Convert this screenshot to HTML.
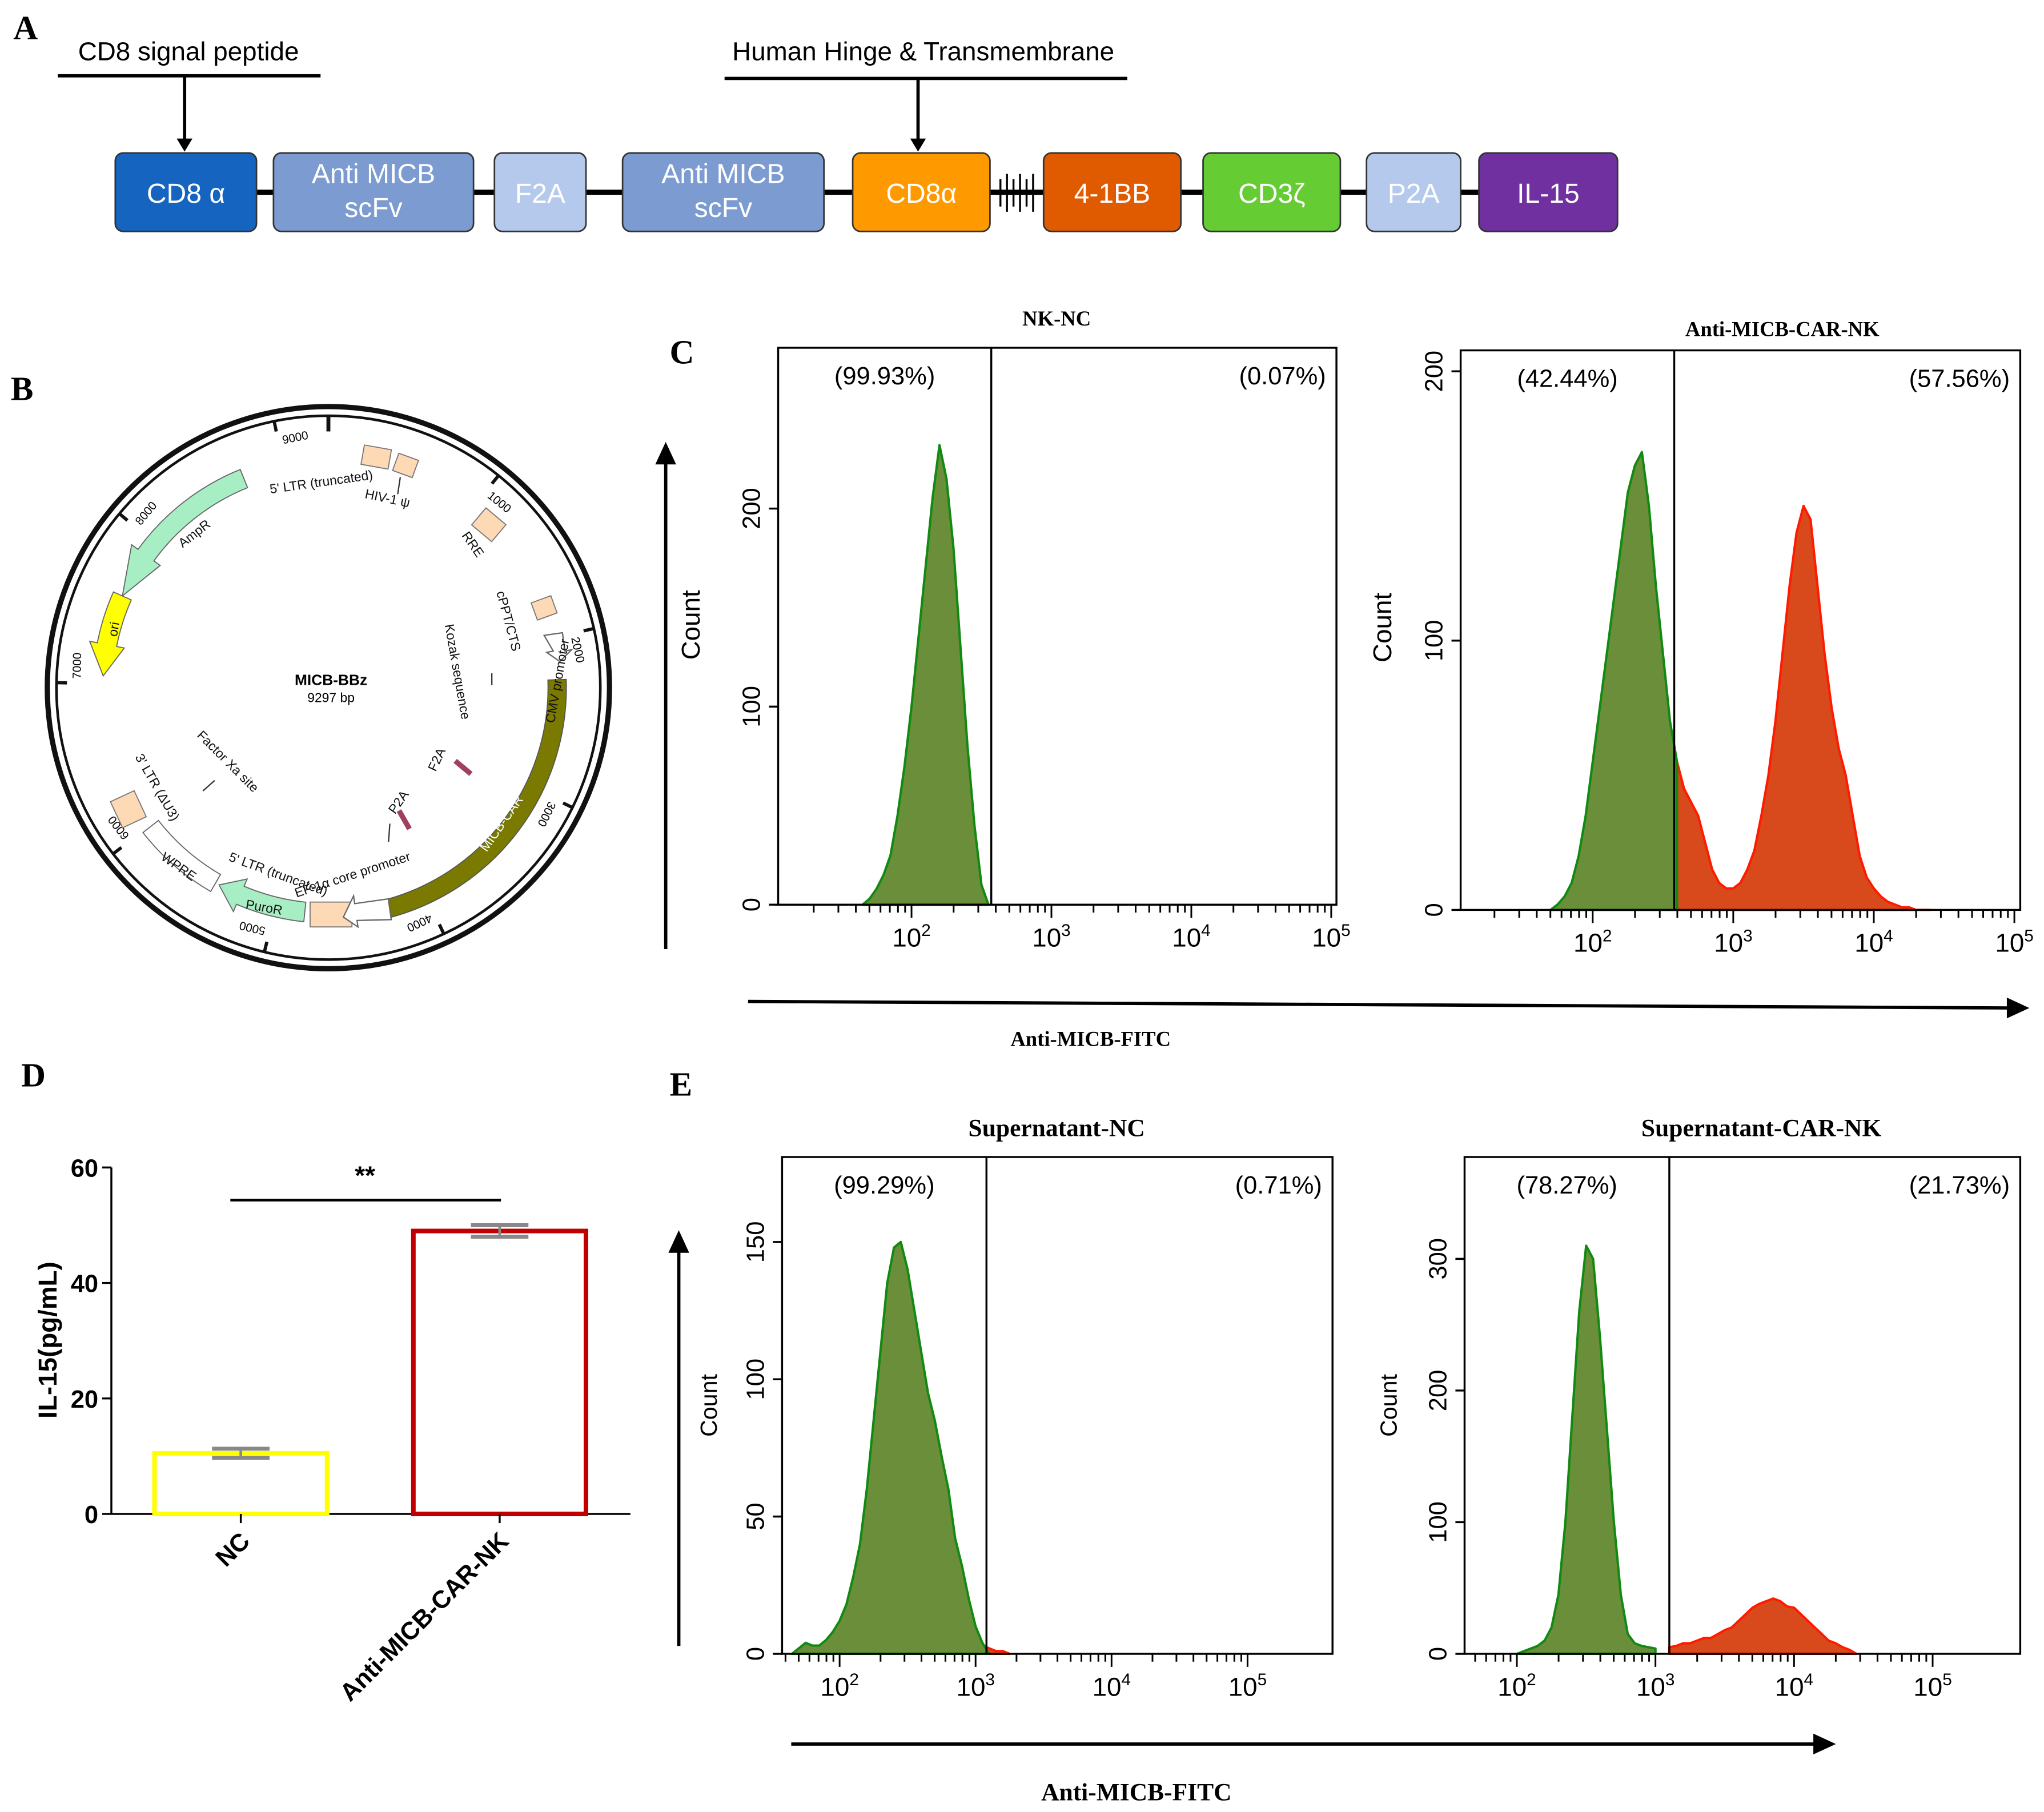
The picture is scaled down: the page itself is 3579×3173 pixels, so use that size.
<!DOCTYPE html>
<html><head><meta charset="utf-8"><style>
html,body{margin:0;padding:0;background:#fff}
svg{display:block}
text{font-family:"Liberation Sans",sans-serif}
.serif{font-family:"Liberation Serif",serif;font-weight:bold}
</style></head><body>
<svg id="fig" width="3579" height="3173" viewBox="0 0 1563 1386" xmlns="http://www.w3.org/2000/svg">
<rect width="1563" height="1386" fill="#fff"/>
<text class="serif" x="10" y="30" font-size="26">A</text>
<text class="serif" x="8" y="306" font-size="26">B</text>
<text class="serif" x="512" y="278" font-size="26">C</text>
<text class="serif" x="16" y="831" font-size="26">D</text>
<text class="serif" x="512" y="838" font-size="26">E</text>

<g id="panelA">
<line x1="90" y1="147" x2="1235" y2="147" stroke="#000" stroke-width="4"/>
<text x="144" y="46" font-size="20" text-anchor="middle">CD8 signal peptide</text>
<line x1="44" y1="58" x2="245" y2="58" stroke="#000" stroke-width="2.5"/>
<line x1="141" y1="58" x2="141" y2="108" stroke="#000" stroke-width="2.5"/>
<polygon points="135,106 147,106 141,116" fill="#000"/>
<text x="706" y="46" font-size="20" text-anchor="middle">Human Hinge &amp; Transmembrane</text>
<line x1="554" y1="60" x2="862" y2="60" stroke="#000" stroke-width="2.5"/>
<line x1="702" y1="60" x2="702" y2="108" stroke="#000" stroke-width="2.5"/>
<polygon points="696,106 708,106 702,116" fill="#000"/>
<g stroke="#000" stroke-width="1.5">
<line x1="765" y1="137" x2="765" y2="158"/><line x1="770" y1="133" x2="770" y2="162"/><line x1="775" y1="137" x2="775" y2="158"/><line x1="780" y1="133" x2="780" y2="162"/><line x1="785" y1="137" x2="785" y2="158"/><line x1="790" y1="133" x2="790" y2="162"/></g>
</g>
<g id="boxes"></g>

<g id="panelB">
<circle cx="251" cy="526" r="215" fill="none" stroke="#111" stroke-width="4"/>
<circle cx="251" cy="526" r="208" fill="none" stroke="#111" stroke-width="2"/>
<g id="ptick"></g>
<path id="micbcar" fill="#7a7a00" stroke="#555" stroke-width="0.8"/>
<path id="ampr" fill="#a8eec4" stroke="#666" stroke-width="0.8"/>
<path id="ori" fill="#ffff00" stroke="#666" stroke-width="0.8"/>
<path id="puro" fill="#a8eec4" stroke="#666" stroke-width="0.8"/>
<path id="wpre" fill="#fff" stroke="#666" stroke-width="0.8"/>
<g fill="#fdd9b5" stroke="#777" stroke-width="0.8">
<rect x="277" y="342" width="21" height="15" transform="rotate(10 287 350)"/>
<rect x="302" y="349" width="16" height="14" transform="rotate(20 310 356)"/>
<rect x="364" y="393" width="20" height="17" transform="rotate(40 374 401)"/>
<rect x="408" y="458" width="16" height="14" transform="rotate(-20 416 465)"/>
<rect x="237" y="690" width="32" height="19"/>
<rect x="88" y="608" width="20" height="22" transform="rotate(-25 98 619)"/>
</g>
<path d="M416,486 L430,484 L432,498 L437,497 L428,506 L418,499 L423,498 Z" fill="#fff" stroke="#666"/>
<path d="M298,690 L272,690 L272,684 L262,699 L272,708 L272,703 L298,706 Z" fill="#fff" stroke="#666" transform="rotate(-8 280 697)"/>
<text x="253" y="524" font-size="11.5" font-weight="bold" text-anchor="middle">MICB-BBz</text>
<text x="253" y="537" font-size="10" text-anchor="middle">9297 bp</text>
<g font-size="10" fill="#111">
<text x="246" y="372" transform="rotate(-8 246 372)" text-anchor="middle">5' LTR (truncated)</text>
<text x="278" y="385" transform="rotate(12 298 385)">HIV-1 ψ</text>
<text x="353" y="415" transform="rotate(55 358 412)">RRE</text>
<text x="378" y="455" transform="rotate(75 380 455)">cPPT/CTS</text>
<text x="340" y="478" transform="rotate(80 340 478)">Kozak sequence</text>
<text x="400" y="565" transform="rotate(-80 405 545)">CMV promoter</text>
<text x="372" y="652" transform="rotate(-55 372 652)" fill="#fff">MICB-CAR</text>
<text x="325" y="592" transform="rotate(-65 328 585)">F2A</text>
<text x="292" y="620" transform="rotate(-55 300 612)">P2A</text>
<text x="222" y="672" transform="rotate(-18 270 665)">EF-1α core promoter</text>
<text x="170" y="668" transform="rotate(20 200 675)">5' LTR (truncated)</text>
<text x="188" y="697" transform="rotate(10 200 692)">PuroR</text>
<text x="122" y="662" transform="rotate(35 130 660)">WPRE</text>
<text x="92" y="582" transform="rotate(60 100 590)">3' LTR (ΔU3)</text>
<text x="150" y="563" transform="rotate(45 150 563)">Factor Xa site</text>
<text x="135" y="414" transform="rotate(-38 145 410)">AmpR</text>
<text x="78" y="490" transform="rotate(-80 82 482)">ori</text>
</g>
<g stroke="#333" stroke-width="1"><line x1="376" y1="515" x2="376" y2="524"/><line x1="155" y1="605" x2="164" y2="597"/><line x1="297" y1="644" x2="298" y2="630"/><line x1="306" y1="365" x2="304" y2="378"/></g>
<path d="M348,582 L360,592" stroke="#a04060" stroke-width="4"/>
<path d="M305,620 L313,634" stroke="#a04060" stroke-width="4"/>
</g>

<g id="panelD"></g>
<g id="flow"></g>

<text class="serif" x="808" y="249" font-size="16" text-anchor="middle">NK-NC</text>
<text class="serif" x="1363" y="257" font-size="16" text-anchor="middle">Anti-MICB-CAR-NK</text>
<text class="serif" x="834" y="800" font-size="16" text-anchor="middle">Anti-MICB-FITC</text>
<text class="serif" x="808" y="869" font-size="19" text-anchor="middle">Supernatant-NC</text>
<text class="serif" x="1347" y="869" font-size="19" text-anchor="middle">Supernatant-CAR-NK</text>
<text class="serif" x="869" y="1377" font-size="19" text-anchor="middle">Anti-MICB-FITC</text>
<g stroke="#000" stroke-width="2.5" fill="#000">
<line x1="509" y1="726" x2="509" y2="352"/><polygon points="503,354 515,354 509,341"/>
<line x1="572" y1="766" x2="1538" y2="771"/><polygon points="1536,765 1536,777 1549,771"/>
<line x1="519" y1="1259" x2="519" y2="955"/><polygon points="513,957 525,957 519,944"/>
<line x1="605" y1="1334" x2="1390" y2="1334"/><polygon points="1388,1328 1388,1340 1401,1334"/>
</g>
</svg>
<script>
const NS="http://www.w3.org/2000/svg";
function mk(tag,attrs,parent){const e=document.createElementNS(NS,tag);for(const k in attrs)e.setAttribute(k,attrs[k]);parent.appendChild(e);return e;}

const boxLabels=["CD8 α","Anti MICB|scFv","F2A","Anti MICB|scFv","CD8α","4-1BB","CD3ζ","P2A","IL-15"];
const boxX=[[88,196],[209,362],[378,448],[476,630],[652,757],[798,903],[920,1025],[1045,1117],[1131,1237]];
const boxFill=["#1565c0","#7b9bd1","#b4c9ec","#7b9bd1","#ff9900","#e05a00","#66cc33","#b4c9ec","#7030a0"];
const bg=document.getElementById('boxes');
boxLabels.forEach((l,i)=>{
  const r=mk('rect',{x:boxX[i][0],y:117,width:boxX[i][1]-boxX[i][0],height:60,rx:6,fill:boxFill[i],stroke:"#333","stroke-width":1.2},bg);
  
  
  const parts=l.split('|');const cx=(boxX[i][0]+boxX[i][1])/2;
  parts.forEach((p,j)=>{const t=mk('text',{x:cx,y:parts.length==1?155:140+j*26,"font-size":21,fill:"#fff","text-anchor":"middle"},bg);t.textContent=p;
  
  });
});

const C=[251,526];
function pt(a,r){const t=(a-90)*Math.PI/180;return [C[0]+r*Math.cos(t),C[1]+r*Math.sin(t)];}
function arc(a1,a2,r1,r2){const p1=pt(a1,r2),p2=pt(a2,r2),p3=pt(a2,r1),p4=pt(a1,r1);const lg=(a2-a1)>180?1:0;
return `M${p1} A${r2},${r2} 0 ${lg} 1 ${p2} L${p3} A${r1},${r1} 0 ${lg} 0 ${p4} Z`;}
function arrowArc(a1,a2,r1,r2,head){
 const rm=(r1+r2)/2,p1=pt(a1+head,r2),p2=pt(a2,r2),p3=pt(a2,r1),p4=pt(a1+head,r1),tip=pt(a1,rm),e1=pt(a1+head,r2+6),e2=pt(a1+head,r1-6);
 return `M${p1} A${r2},${r2} 0 0 1 ${p2} L${p3} A${r1},${r1} 0 0 0 ${p4} L${e2} L${tip} L${e1} Z`;}
function arrowArcCW(a1,a2,r1,r2,head){
 const rm=(r1+r2)/2,p1=pt(a1,r2),p2=pt(a2-head,r2),p3=pt(a2-head,r1),p4=pt(a1,r1),tip=pt(a2,rm),e1=pt(a2-head,r2+6),e2=pt(a2-head,r1-6);
 return `M${p1} A${r2},${r2} 0 0 1 ${p2} L${e1} L${tip} L${e2} L${p3} A${r1},${r1} 0 0 0 ${p4} Z`;}
document.getElementById('micbcar').setAttribute('d',arc(88,166,168,182));
document.getElementById('ampr').setAttribute('d',arrowArc(-66,-22,165,180,12));
document.getElementById('ori').setAttribute('d',arrowArc(-87,-66,165,180,8));
document.getElementById('puro').setAttribute('d',arrowArcCW(186,209,165,180,6));
document.getElementById('wpre').setAttribute('d',arc(210,232,165,180));
const ptick=document.getElementById('ptick');
const tickBp=[0,1000,2000,3000,4000,5000,6000,7000,8000,9000];
tickBp.forEach(b=>{const a=b/9297*360;const p1=pt(a,208),p2=pt(a,b==0?196:200);
 const l=mk('line',{x1:p1[0],y1:p1[1],x2:p2[0],y2:p2[1],stroke:"#111","stroke-width":b==0?3:2.5},ptick);
 
 if(b){const q=pt(a+4,190);const t=mk('text',{x:q[0],y:q[1],"font-size":9,"text-anchor":"middle",transform:`rotate(${a} ${q[0]} ${q[1]})`},ptick);t.textContent=b;
 }
});

const dCats=["NC","Anti-MICB-CAR-NK"];
const dVals=[10.5,49];
const dErr=[0.8,1.0];
const dTicks=[0,20,40,60];
const dColors=["#ffff00","#c00000"];
(function(){
 const g=document.getElementById('panelD');
 const y0=1158,ppu=(1158-893)/60,y=v=>y0-v*ppu;
 const xL=[118,316],bw=132;
 mk('line',{x1:85,y1:y0,x2:482,y2:y0,stroke:"#000","stroke-width":1.5},g);
 mk('line',{x1:85,y1:y(60),x2:85,y2:y0,stroke:"#000","stroke-width":1.5},g);
 dTicks.forEach(t=>{mk('line',{x1:78,y1:y(t),x2:85,y2:y(t),stroke:"#000","stroke-width":1.5},g);
  const tx=mk('text',{x:75,y:y(t)+7,"font-size":19,"font-weight":"bold","text-anchor":"end"},g);tx.textContent=t;
  });
 const yl=mk('text',{x:43,y:1025,"font-size":20,"font-weight":"bold","text-anchor":"middle",transform:"rotate(-90 43 1025)"},g);yl.textContent="IL-15(pg/mL)";
 
 dVals.forEach((v,i)=>{
  const b=mk('rect',{x:xL[i],y:y(v),width:bw,height:y0-y(v),fill:"#fff",stroke:dColors[i],"stroke-width":3.5},g);
  
  const cx=xL[i]+bw/2;
  mk('line',{x1:cx,y1:y(v+dErr[i]),x2:cx,y2:y(v-dErr[i]),stroke:"#888","stroke-width":2},g);
  mk('line',{x1:cx-22,y1:y(v+dErr[i]),x2:cx+22,y2:y(v+dErr[i]),stroke:"#888","stroke-width":3},g);
  mk('line',{x1:cx-22,y1:y(v-dErr[i]),x2:cx+22,y2:y(v-dErr[i]),stroke:"#888","stroke-width":3},g);
  mk('line',{x1:cx,y1:y0,x2:cx,y2:y0+7,stroke:"#000","stroke-width":1.5},g);
  const t=mk('text',{x:cx+8,y:y0+22,"font-size":19,"font-weight":"bold","text-anchor":"end",transform:`rotate(-45 ${cx+8} ${y0+22})`},g);t.textContent=dCats[i];
  
 });
 mk('line',{x1:176,y1:918,x2:383,y2:918,stroke:"#000","stroke-width":2},g);
 const s=mk('text',{x:279,y:906,"font-size":20,"font-weight":"bold","text-anchor":"middle"},g);s.textContent="**";
 
})();

const h1Start=1.65, h1Green=[0,3,8,15,25,45,70,100,135,170,205,232,215,180,130,80,40,10,0];
const h2Start=1.7, h2Green=[0,2,5,10,20,35,55,75,95,115,135,155,165,170,150,120,95,70,55];
const h2RedStart=2.6, h2Red=[55,45,40,35,25,15,10,8,8,10,15,22,35,50,70,95,120,140,150,145,120,95,75,60,50,35,20,12,8,5,3,2,1,1,0,0,0];
const h3Start=1.65, h3Green=[0,2,4,3,3,5,8,12,18,28,40,60,85,110,135,148,150,140,125,110,95,85,72,60,42,32,20,10,4,0];
const h3RedStart=3.05, h3Red=[3,2,1,1,0];
const h4Start=2.0, h4Green=[0,2,4,6,10,20,45,100,180,260,310,300,240,170,100,45,15,8,6,5,4];
const h4RedStart=3.1, h4Red=[5,6,8,8,10,12,12,15,18,20,25,30,35,38,40,42,40,36,35,30,25,20,15,10,8,5,3,0];
const cTicks=[0,100,200], eTicksL=[0,50,100,150], eTicksR=[0,100,200,300];
const pcts=[["(99.93%)","(0.07%)"],["(42.44%)","(57.56%)"],["(99.29%)","(0.71%)"],["(78.27%)","(21.73%)"]];

const plots=[
 {box:[595,266,1022,692],x2:697,dec:107,yscale:151.5/100,gate:2.57,ticks:cTicks,green:[h1Start,h1Green],red:null,pcts:pcts[0],countY:478,countX:535,countFs:20,nm:'nk-nc'},
 {box:[1117,268,1545,696],x2:1218,dec:107.5,yscale:206/100,gate:2.58,ticks:cTicks,green:[h2Start,h2Green],red:[h2RedStart,h2Red],pcts:pcts[1],countY:480,countX:1064,countFs:20,nm:'car-nk'},
 {box:[598,885,1019,1265],x2:642,dec:104,yscale:2.1,gate:3.08,ticks:eTicksL,green:[h3Start,h3Green],red:[h3RedStart,h3Red],pcts:pcts[2],countY:1075,countX:548,countFs:18,nm:'sup-nc'},
 {box:[1120,885,1545,1265],x2:1160,dec:106,yscale:1.007,gate:3.1,ticks:eTicksR,green:[h4Start,h4Green],red:[h4RedStart,h4Red],pcts:pcts[3],countY:1075,countX:1068,countFs:18,nm:'sup-car'}
];
const fg=document.getElementById('flow');
plots.forEach(P=>{
 const [L,T,R,B]=P.box;
 const X=l=>P.x2+(l-2)*P.dec, Y=c=>B-c*P.yscale;
 const g=mk('g',{},fg);
 
 function area(start,vals,fill,stroke){
  let d=`M${X(start)},${B}`;vals.forEach((v,i)=>{d+=` L${X(start+i*0.05)},${Y(v)}`;});
  d+=` L${X(start+(vals.length-1)*0.05)},${B} Z`;
  return mk('path',{d:d,fill:fill,stroke:stroke,"stroke-width":1.8,"stroke-linejoin":"round"},g);}
 if(P.red){const p=area(P.red[0],P.red[1],"#d84a1b","#ff1a00");}
 const gp=area(P.green[0],P.green[1],"#6b8e3a","#128a12");
 mk('rect',{x:L,y:T,width:R-L,height:B-T,fill:"none",stroke:"#000","stroke-width":1.5},g);
 mk('line',{x1:X(P.gate),y1:T,x2:X(P.gate),y2:B,stroke:"#000","stroke-width":1.5},g);
 P.ticks.forEach(t=>{mk('line',{x1:L-7,y1:Y(t),x2:L,y2:Y(t),stroke:"#000","stroke-width":1.5},g);
  const tx=mk('text',{x:L-14,y:Y(t),"font-size":19,"text-anchor":"middle",transform:`rotate(-90 ${L-14} ${Y(t)})`},g);tx.textContent=t;
  });
 const ct=mk('text',{x:P.countX,y:P.countY,"font-size":P.countFs,"text-anchor":"middle",transform:`rotate(-90 ${P.countX} ${P.countY})`},g);ct.textContent="Count";
 
 for(let d=1;d<=4;d++){for(let m=1;m<=9;m++){const l=d+Math.log10(m);const xx=X(l);if(xx<L||xx>R)continue;
  mk('line',{x1:xx,y1:B,x2:xx,y2:B+(m==1?10:6),stroke:"#000","stroke-width":1.3},g);}}
 mk('line',{x1:X(5),y1:B,x2:X(5),y2:B+10,stroke:"#000","stroke-width":1.3},g);
 [2,3,4,5].forEach(e=>{const t=mk('text',{x:X(e),y:B+32,"font-size":20,"text-anchor":"middle"},g);
  t.textContent="10";const s=mk('tspan',{"font-size":13,dy:-8},t);s.textContent=e;
  });
 const p1=mk('text',{x:(L+X(P.gate))/2,y:T+28,"font-size":19,"text-anchor":"middle"},g);p1.textContent=P.pcts[0];
 
 const p2=mk('text',{x:R-8,y:T+28,"font-size":19,"text-anchor":"end"},g);p2.textContent=P.pcts[1];
 
});
</script>
</body></html>
